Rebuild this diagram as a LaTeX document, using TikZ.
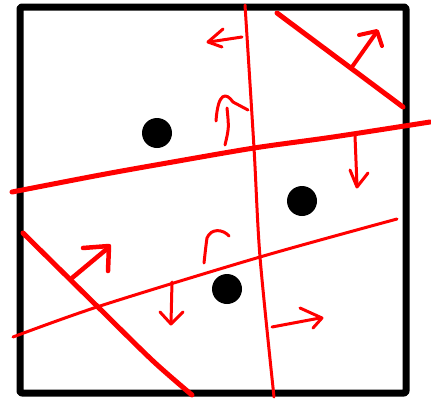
\documentclass[tikz,border=0pt]{standalone}
\definecolor{pen}{HTML}{FF0000}
\tikzset{
  cut/.style={pen, line width=3pt},
  thickcut/.style={pen, line width=5pt}
}
\begin{document}
\begin{tikzpicture}[x=1pt, y=-1pt, line cap=round, line join=round]
\useasboundingbox (0,0) rectangle (431,399);
\draw[black, line width=7pt, rounded corners=2pt] (20,7) rectangle (406,393);
\fill[black] (157,133) circle (15pt);
\fill[black] (302,201) circle (15pt);
\fill[black] (227,289) circle (15pt);
\draw[cut] plot[smooth] coordinates {(245,5) (254,148) (260,257) (274,397)};
\draw[thickcut] plot[smooth] coordinates {(12,192) (100,175) (167,163) (254,148) (333,137) (430,122)};
\draw[thickcut] (277,13) -- (403,107);
\draw[thickcut] plot[smooth] coordinates {(23,233) (98,307) (153,361) (192,395)};
\draw[cut] plot[smooth] coordinates {(13,337) (100,306) (260,257) (397,219)};
\draw[cut] (242,37) -- (209,42);
\draw[cut] (223,29) -- (208,42) -- (222,47);
\draw[cut, line width=4pt] (352,67) -- (376,33);
\draw[cut, line width=4pt] (359,35) -- (377,31) -- (382,46);
\draw[cut] (355,136) -- (357,186);
\draw[cut] (350,170) -- (357,187) -- (368,173);
\draw[thickcut, line width=4.5pt] (72,278) -- (108,248);
\draw[thickcut, line width=4.5pt] (83,248) -- (109,246) -- (108,271);
\draw[cut] (172,282) -- (171,323);
\draw[cut] (160,312) -- (171,324) -- (183,312);
\draw[cut] (272,327) -- (320,318);
\draw[cut] (300,308) -- (322,318) -- (313,328);
\draw[cut] (225,145) .. controls (229,128) .. (227,108);
\draw[cut] (216,121) .. controls (218,92) and (226,92) .. (233,102) -- (248,110);
\draw[cut] (204,263) .. controls (206,245) .. (207,238) .. controls (211,228) and (223,229) .. (229,236);
\end{tikzpicture}
\end{document}
